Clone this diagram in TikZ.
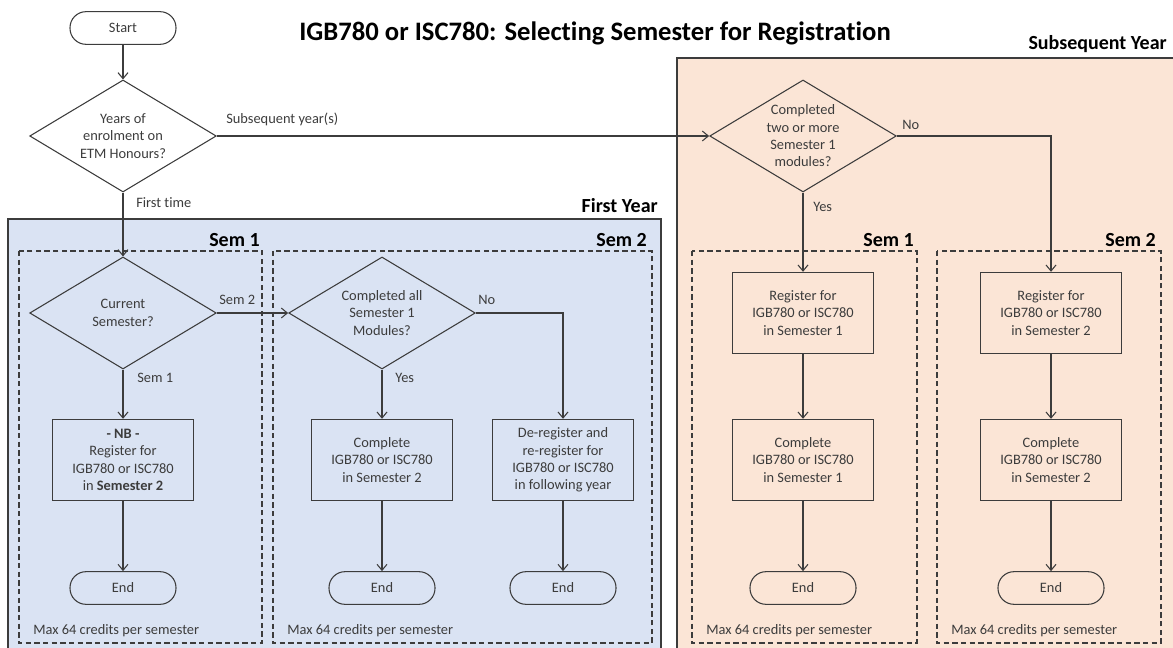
\documentclass[tikz,border=0pt]{standalone}
\usepackage{fontspec}
\setmainfont{Carlito}[Ligatures=CommonOff]
\usetikzlibrary{shapes.geometric,arrows.meta}
\definecolor{fyblue}{HTML}{DAE3F3}
\definecolor{sypeach}{HTML}{FBE5D6}
\definecolor{ink}{HTML}{3C3C3C}
\begin{document}
\begin{tikzpicture}[x=0.75pt,y=-0.75pt,
        txt/.style={text=ink,font=\fontsize{10.8}{13}\selectfont},
        term/.style={txt,draw=ink,line width=0.8pt,rounded corners=12pt,minimum width=79.5pt,minimum height=24.5pt,inner sep=0pt},
        decision/.style={txt,draw=ink,line width=0.8pt,diamond,aspect=1.67,minimum width=140pt,minimum height=84pt,inner sep=0pt,align=center},
        action/.style={txt,draw=ink,line width=0.8pt,minimum width=106pt,minimum height=61pt,inner sep=0pt,align=center},
        lbl/.style={txt,anchor=west,inner sep=0pt},
        head/.style={text=black,font=\bfseries\fontsize{15}{18}\selectfont,anchor=east,inner sep=0pt},
        semline/.style={draw=ink,line width=0.8pt,dash pattern=on 4pt off 2.5pt},
        flow/.style={draw=ink,line width=0.8pt,-{Straight Barb[length=4.5pt,width=7.5pt]}}]
        %Registration flow chart
        \useasboundingbox (0,0) rectangle (1173,648);

        \filldraw[fill=fyblue,draw=ink,line width=0.8pt] (8,219) rectangle (661,660);
        \filldraw[fill=sypeach,draw=ink,line width=0.8pt] (677,58) rectangle (1190,660);

        \draw[semline] (19,251) rectangle (262,643);
        \draw[semline] (273,251) rectangle (652,643);
        \draw[semline] (692,251) rectangle (917,643);
        \draw[semline] (937,251) rectangle (1161,643);

        \node[text=black,font=\bfseries\fontsize{20}{24}\selectfont] (title) at (595,33) {IGB780 or ISC780: Selecting Semester for Registration};
        \node[head] (fyhead) at (658,206) {First Year};
        \node[head] (syhead) at (1167,44) {Subsequent Year};
        \node[head] (fysemA) at (260,240) {Sem 1};
        \node[head] (fysemB) at (647,240) {Sem 2};
        \node[head] (sysemA) at (914,240) {Sem 1};
        \node[head] (sysemB) at (1156,240) {Sem 2};

        \node[term] (start) at (123,28) {Start};
        \node[decision] (years) at (123,136) {Years of\\enrolment on\\ETM Honours?};

        \node[decision] (cursem) at (123,313) {Current\\Semester?};
        \node[action] (nb) at (123,460) {\textbf{- NB -}\\Register for\\IGB780 or ISC780\\in \textbf{Semester 2}};
        \node[term] (endA) at (123,588) {End};

        \node[decision] (allsem) at (382,313) {Completed all\\Semester 1\\Modules?};
        \node[action] (compB) at (382,460) {Complete\\IGB780 or ISC780\\in Semester 2};
        \node[action] (dereg) at (563,460) {De-register and\\re-register for\\IGB780 or ISC780\\in following year};
        \node[term] (endB) at (382,588) {End};
        \node[term] (endC) at (563,588) {End};

        \node[decision] (twomore) at (803,136) {Completed\\two or more\\Semester 1\\modules?};
        \node[action] (regD) at (803,313) {Register for\\IGB780 or ISC780\\in Semester 1};
        \node[action] (compD) at (803,460) {Complete\\IGB780 or ISC780\\in Semester 1};
        \node[term] (endD) at (803,588) {End};
        \node[action] (regE) at (1051,313) {Register for\\IGB780 or ISC780\\in Semester 2};
        \node[action] (compE) at (1051,460) {Complete\\IGB780 or ISC780\\in Semester 2};
        \node[term] (endE) at (1051,588) {End};

        \draw[flow] (start) -- (years);
        \draw[flow] (years) -- (twomore);
        \draw[flow] (years) -- (cursem);
        \draw[flow] (cursem) -- (allsem);
        \draw[flow] (cursem) -- (nb);
        \draw[flow] (nb) -- (endA);
        \draw[flow] (allsem) -- (compB);
        \draw[flow] (allsem.east) -| (dereg);
        \draw[flow] (compB) -- (endB);
        \draw[flow] (dereg) -- (endC);
        \draw[flow] (twomore) -- (regD);
        \draw[flow] (twomore.east) -| (regE);
        \draw[flow] (regD) -- (compD);
        \draw[flow] (compD) -- (endD);
        \draw[flow] (regE) -- (compE);
        \draw[flow] (compE) -- (endE);

        \node[lbl] (lsubs) at (226,119) {Subsequent year(s)};
        \node[lbl] (lfirst) at (136,203) {First time};
        \node[lbl] (lsemB) at (219,300) {Sem 2};
        \node[lbl] (lsemA) at (137,378) {Sem 1};
        \node[lbl] (lnoA) at (478,300) {No};
        \node[lbl] (lyesA) at (395,378) {Yes};
        \node[lbl] (lnoB) at (902,125) {No};
        \node[lbl] (lyesB) at (813,207) {Yes};

        \node[lbl] (maxA) at (33,631) {Max 64 credits per semester};
        \node[lbl] (maxB) at (287,631) {Max 64 credits per semester};
        \node[lbl] (maxC) at (706,631) {Max 64 credits per semester};
        \node[lbl] (maxD) at (951,631) {Max 64 credits per semester};
    \end{tikzpicture}
\end{document}
